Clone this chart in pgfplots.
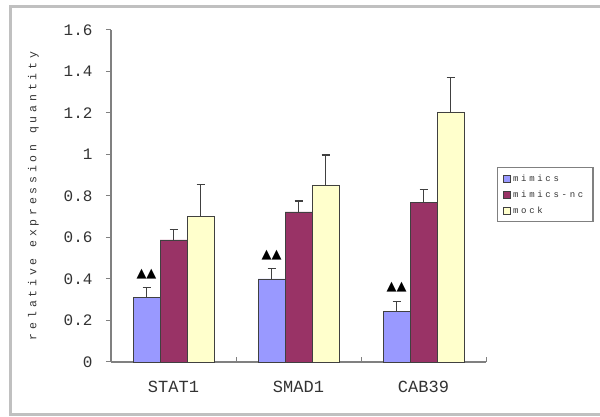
\documentclass[border=0pt]{standalone}
\usepackage{fontspec}
\setmainfont{Liberation Mono}
\newfontfamily\tri{DejaVu Sans}
\newfontfamily\lblfont[LetterSpace=33]{Liberation Mono}
\newfontfamily\legfont[LetterSpace=30]{Liberation Mono}
\usepackage{pgfplots}
\pgfplotsset{compat=1.18}
\definecolor{cblue}{HTML}{9999FF}
\definecolor{cred}{HTML}{993366}
\definecolor{cyel}{HTML}{FFFFCC}
\definecolor{axgray}{HTML}{808080}
\definecolor{framegray}{HTML}{C0C0C0}
\definecolor{txt}{HTML}{333333}
\begin{document}
\begin{tikzpicture}[x=1pt,y=1pt]
\useasboundingbox (0,0) rectangle (600,417);
\fill[white] (0,0) rectangle (600,417);
\draw[framegray, line width=3pt] (10,2) rectangle (612,410);
\begin{axis}[at={(111pt,55pt)}, anchor=south west, scale only axis,
  width=375pt, height=332pt,
  ybar=0pt, bar width=27pt,
  xmin=-0.5, xmax=2.5, ymin=0, ymax=1.6,
  axis x line*=bottom, axis y line*=left,
  axis line style={axgray, line width=1.2pt},
  tick align=outside, major tick length=5pt,
  xtick={0.5,1.5,2.5}, xticklabels={},
  x tick style={yshift=5pt, draw=axgray, line width=1pt},
  extra x ticks={0,1,2}, extra x tick labels={STAT1,SMAD1,CAB39},
  extra x tick style={major tick length=0pt},
  ytick={0,0.2,...,1.6},
  y tick style={draw=axgray, line width=1pt},
  /pgf/number format/assume math mode=true,
  /pgf/number format/fixed,
  yticklabel style={font=\fontsize{16}{16}\selectfont, text=txt, xshift=-10pt},
  xticklabel style={font=\fontsize{17}{17}\selectfont, text=txt, yshift=-16pt},
  ylabel={\lblfont relative expression quantity},
  ylabel style={font=\fontsize{11.5}{12}\selectfont, text=txt, yshift=18pt},
  clip=false,
  legend style={at={(1.029,0.587)}, anchor=north west, draw=axgray, line width=1.2pt,
    font=\legfont\fontsize{9}{10}\selectfont, text=txt, row sep=4pt,
    inner xsep=6pt, inner ysep=5pt, text width=72pt},
  legend cell align=left,
  legend image code/.code={\draw[#1, line width=0.6pt] (0pt,-3.5pt) rectangle (7pt,3.5pt);},
  error bars/error bar style={color=darkgray, line width=1.2pt},
  error bars/error mark options={rotate=90, mark size=4pt, line width=1.2pt, color=darkgray},
]
\addplot[fill=cblue, draw=darkgray, line width=0.8pt,
  nodes near coords={\tri\fontsize{13}{13}\selectfont ▲▲},
  every node near coord/.append style={text=black, inner sep=0pt, anchor=center, yshift=24pt},
  error bars/.cd, y dir=plus, y explicit]
  coordinates {(0,0.31) +- (0,0.05) (1,0.40) +- (0,0.05) (2,0.245) +- (0,0.045)};
\addplot[fill=cred, draw=darkgray, line width=0.8pt,
  error bars/.cd, y dir=plus, y explicit]
  coordinates {(0,0.588) +- (0,0.052) (1,0.723) +- (0,0.053) (2,0.77) +- (0,0.06)};
\addplot[fill=cyel, draw=darkgray, line width=0.8pt,
  error bars/.cd, y dir=plus, y explicit]
  coordinates {(0,0.70) +- (0,0.157) (1,0.853) +- (0,0.145) (2,1.205) +- (0,0.165)};
\legend{mimics, mimics-nc, mock}
\end{axis}
\end{tikzpicture}
\end{document}
